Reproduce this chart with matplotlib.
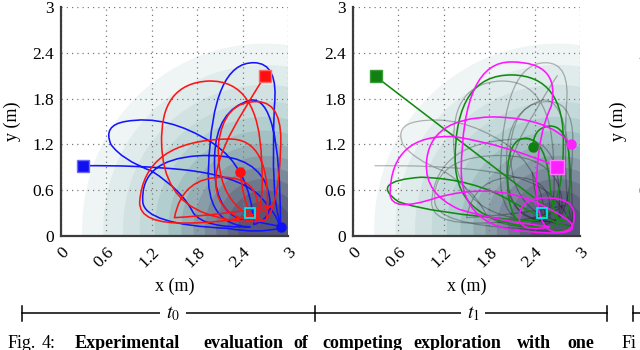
import matplotlib

matplotlib.use("Agg")
import matplotlib.pyplot as plt
from matplotlib.patches import Circle, PathPatch
from matplotlib.path import Path

plt.rcParams["font.family"] = ["Liberation Serif", "DejaVu Serif"]
plt.rcParams["mathtext.fontset"] = "stix"

# axis ticks
tick_vals = [0, 0.6, 1.2, 1.8, 2.4, 3]
tick_labels = ["0", "0.6", "1.2", "1.8", "2.4", "3"]

# shaded coverage field: concentric bands (radius in m, bone colormap level)
field_center = (2.7, 0.1)
band_radii = [2.42, 2.14, 1.88, 1.66, 1.46, 1.28, 1.11, 0.95, 0.80, 0.65, 0.50, 0.36]
band_levels = [0.95, 0.91, 0.87, 0.83, 0.78, 0.73, 0.67, 0.61, 0.55, 0.49, 0.43, 0.38]

# trajectories: start point, then (control, anchor) pairs of quadratic curves
blue_pts = [
    (0.29, 0.92),
    (1.00, 0.93), (1.60, 0.87),
    (2.30, 0.80), (2.60, 0.55),
    (2.90, 0.25), (2.88, 0.10),
    (2.60, 0.03), (2.20, 0.10),
    (1.10, 0.15), (1.08, 0.45),
    (1.05, 1.00), (1.80, 1.05),
    (2.50, 1.10), (2.70, 0.70),
    (2.88, 0.25), (2.55, 0.15),
    (2.50, 0.90), (2.00, 1.22),
    (1.40, 1.60), (0.85, 1.50),
    (0.55, 1.45), (0.66, 1.20),
    (0.80, 1.00), (1.20, 0.85),
    (1.60, 0.60), (1.75, 0.30),
    (1.90, 0.10), (2.50, 0.12),
    (1.90, 0.14), (1.95, 0.90),
    (2.00, 2.28), (2.55, 2.27),
    (2.88, 2.27), (2.82, 1.70),
    (2.77, 0.50), (2.90, 0.16),
    (2.90, 1.85), (2.50, 1.78),
    (2.05, 1.65), (2.03, 1.05),
    (2.00, 0.30), (2.40, 0.22),
    (2.80, 0.15), (2.91, 0.12),
]
red_pts = [
    (2.70, 2.10),
    (2.55, 1.88), (2.42, 1.65),
    (2.10, 1.15), (2.05, 0.80),
    (2.00, 0.30), (2.50, 0.20),
    (2.70, 0.25), (2.65, 1.00),
    (2.62, 2.05), (1.95, 2.03),
    (1.30, 2.00), (1.33, 1.20),
    (1.35, 0.50), (1.90, 0.30),
    (2.30, 0.15), (2.70, 0.20),
    (2.05, 0.35), (2.08, 1.20),
    (2.15, 1.78), (2.60, 1.76),
    (2.95, 1.75), (2.90, 1.10),
    (2.88, 0.45), (2.72, 0.22),
    (2.80, 1.30), (2.20, 1.27),
    (1.10, 1.25), (1.04, 0.45),
    (1.02, 0.15), (1.70, 0.17),
    (2.45, 0.18), (2.80, 0.40),
    (2.20, 0.28), (1.50, 0.24),
    (1.60, 0.78), (2.15, 0.77),
    (2.58, 0.76), (2.60, 0.40),
    (2.63, 0.08), (2.50, 0.30),
    (2.40, 0.50), (2.37, 0.84),
]
green_pts = [
    (0.30, 2.09),
    (1.40, 1.255), (2.50, 0.42),
    (2.85, 0.15), (2.60, 0.12),
    (1.35, 0.10), (1.35, 1.00),
    (1.35, 2.12), (2.10, 2.11),
    (2.80, 2.10), (2.78, 1.20),
    (2.78, 0.15), (2.30, 0.20),
    (1.00, 0.30), (0.60, 0.45),
    (0.20, 0.72), (0.90, 0.77),
    (1.60, 0.75), (2.10, 0.45),
    (2.45, 0.25), (2.85, 0.12),
    (2.90, 0.05), (2.40, 0.10),
    (2.03, 0.10), (2.04, 0.80),
    (2.05, 1.30), (2.30, 1.28),
    (2.55, 1.25), (2.60, 0.70),
    (2.65, 0.15), (2.80, 0.20),
    (2.90, 0.40), (2.85, 1.10),
    (2.80, 1.45), (2.60, 1.44),
    (2.38, 1.42), (2.38, 1.17),
]
magenta_pts = [
    (2.70, 0.91),
    (2.00, 1.20), (1.35, 1.30),
    (0.50, 1.35), (0.49, 0.55),
    (0.50, 0.30), (1.10, 0.50),
    (1.80, 0.70), (2.40, 0.45),
    (2.95, 0.20), (2.90, 0.10),
    (2.85, 0.00), (2.30, 0.06),
    (1.45, 0.10), (1.43, 0.85),
    (1.45, 2.30), (2.10, 2.28),
    (2.75, 2.28), (2.62, 1.70),
    (2.45, 1.35), (2.43, 0.80),
    (2.40, 0.05), (2.70, 0.05),
    (2.95, 0.05), (2.92, 0.30),
    (2.90, 0.50), (2.55, 0.50),
    (2.17, 0.50), (2.20, 0.20),
    (2.25, 0.05), (2.60, 0.12),
    (1.90, 0.20), (1.40, 0.35),
    (0.95, 0.55), (0.97, 0.95),
    (1.00, 1.55), (1.85, 1.56),
    (2.60, 1.55), (2.88, 1.20),
]
target = (2.50, 0.30)


def curve(ax, pts, color, lw, alpha=1.0, z=2):
    codes = [Path.MOVETO] + [Path.CURVE3] * (len(pts) - 1)
    ax.add_patch(PathPatch(Path(pts, codes), fill=False, edgecolor=color,
                           lw=lw, alpha=alpha, zorder=z, capstyle="round",
                           joinstyle="round"))


def robot(ax, pts, face, edge, sq=8.5):
    ax.plot(*pts[0], marker="s", ms=sq, mfc=face, mec=edge, mew=1.0, zorder=5)
    ax.plot(*pts[-1], marker="o", ms=6.5, mfc=face, mec=face, zorder=5)


def style(ax, ylabel=True):
    ax.set_xlim(0, 3)
    ax.set_ylim(0, 3)
    ax.set_xticks(tick_vals)
    ax.set_xticklabels(tick_labels, rotation=45, ha="right", va="top",
                       rotation_mode="anchor")
    ax.set_yticks(tick_vals)
    ax.set_yticklabels(tick_labels)
    ax.tick_params(length=0, labelsize=12.5)
    ax.tick_params(axis="x", pad=6)
    ax.tick_params(axis="y", pad=5)
    for s in ["top", "right"]:
        ax.spines[s].set_visible(False)
    for s in ["left", "bottom"]:
        ax.spines[s].set_color("#3c3c3c")
        ax.spines[s].set_linewidth(1.6)
    ax.set_axisbelow(True)
    ax.grid(True, ls=(0, (1, 3.2)), color="#7a7a7a", lw=0.9)
    ax.set_xlabel("x (m)", fontsize=13)
    ax.xaxis.set_label_coords(0.5, -0.18)
    if ylabel:
        ax.set_ylabel("y (m)", fontsize=13, labelpad=8)
    ax.patch.set_facecolor("white")


def field(ax):
    cmap = plt.get_cmap("bone")
    for r, lv in zip(band_radii, band_levels):
        ax.add_patch(Circle(field_center, r, facecolor=cmap(lv),
                            edgecolor="none", zorder=0.2))


fig = plt.figure(figsize=(6.4, 3.5), dpi=100)
W, H = 640.0, 350.0
ax1 = fig.add_axes([61 / W, 114 / H, 227 / W, 229 / H])
ax2 = fig.add_axes([353 / W, 114 / H, 227 / W, 229 / H])
ax3 = fig.add_axes([667 / W, 114 / H, 227 / W, 229 / H])

# t0
field(ax1)
curve(ax1, blue_pts, "#1414ff", 1.15)
curve(ax1, red_pts, "#ff1414", 1.15)
robot(ax1, blue_pts, "#1010f0", "#6a6aff")
robot(ax1, red_pts, "#ff1010", "#ff6a6a")
ax1.plot(*target, marker="s", ms=7, mfc="none", mec="#00e5ee", mew=1.3, zorder=6)
style(ax1)

# t1
field(ax2)
curve(ax2, blue_pts, "black", 0.9, alpha=0.28)
curve(ax2, red_pts, "black", 0.9, alpha=0.28)
curve(ax2, green_pts, "#128a12", 1.15)
curve(ax2, magenta_pts, "#ff14ff", 1.15)
robot(ax2, green_pts, "#108010", "#3a9a3a")
robot(ax2, magenta_pts, "#ff20ff", "#ff80ff", sq=9.5)
ax2.plot(*target, marker="s", ms=7, mfc="none", mec="#00e5ee", mew=1.3, zorder=6)
style(ax2, ylabel=False)

# t2 (cut off at the right edge)
style(ax3)

# timeline and caption
axt = fig.add_axes([0, 0, 1, 1])
axt.set_xlim(0, W)
axt.set_ylim(H, 0)
axt.axis("off")
axt.plot([22, 607], [313, 313], color="black", lw=1.1)
axt.plot([633, 640], [313, 313], color="black", lw=1.1)
for xt in [22, 315, 607, 633]:
    axt.plot([xt, xt], [305.5, 321], color="black", lw=1.1)
for xt, lab in [(173, r"$t_0$"), (473, r"$t_1$")]:
    axt.text(xt, 314, lab, fontsize=14, ha="center", va="center",
             bbox=dict(facecolor="white", edgecolor="none", pad=4))

caption = [("Fig.", 8, "normal"), ("4:", 42, "normal"),
           ("Experimental", 75, "bold"), ("evaluation", 203, "bold"),
           ("of", 293, "bold"), ("competing", 322, "bold"),
           ("exploration", 413, "bold"), ("with", 517, "bold"),
           ("one", 567, "bold"), ("Fi", 622, "normal")]
for word, xw, wt in caption:
    axt.text(xw, 348.5, word, fontsize=13, fontweight=wt, ha="left",
             va="baseline")

fig.savefig("out.png", dpi=100)
